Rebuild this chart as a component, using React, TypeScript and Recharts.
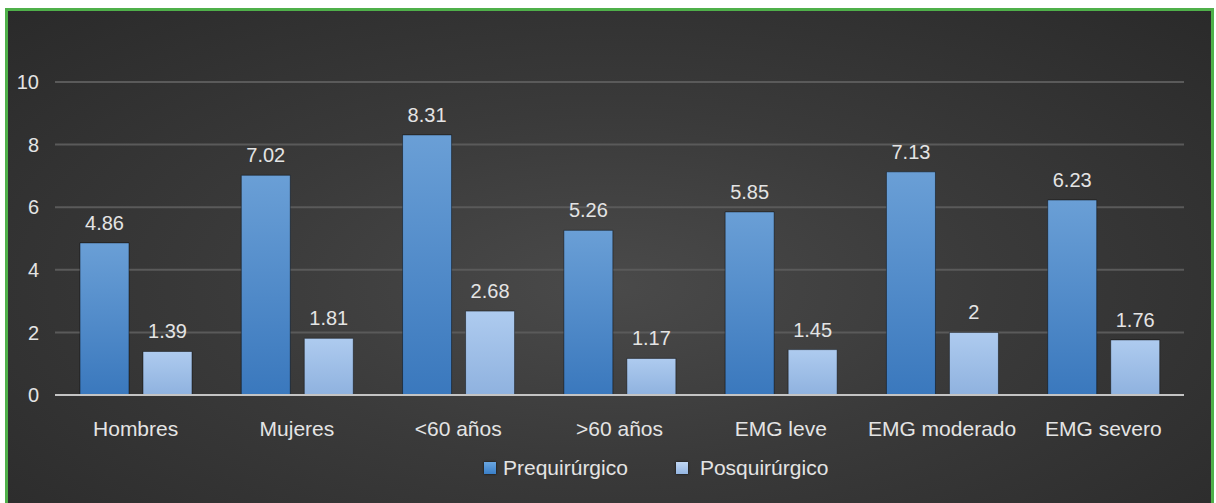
import React from 'react';
import { BarChart, Bar, XAxis, YAxis, CartesianGrid, Legend, LabelList } from 'recharts';

const categories = ['Hombres', 'Mujeres', '<60 años', '>60 años', 'EMG leve', 'EMG moderado', 'EMG severo'];
const prequirurgico = [4.86, 7.02, 8.31, 5.26, 5.85, 7.13, 6.23];
const posquirurgico = [1.39, 1.81, 2.68, 1.17, 1.45, 2, 1.76];
const yTicks = [0, 2, 4, 6, 8, 10];
const seriesOrder = ['pre', 'pos'];
const legendColors: Record<string, string> = {
  pre: 'linear-gradient(#6aa6e0, #3a7fc8)',
  pos: 'linear-gradient(#c0d6f2, #94b6e2)',
};

const data = categories.map((name, i) => ({
  name,
  pre: prequirurgico[i],
  pos: posquirurgico[i],
}));

const FONT = '"Liberation Sans", Arial, Helvetica, sans-serif';
const TEXT = '#e4e4e4';

const renderLegend = (props: any) => {
  const items = [...(props.payload || [])].sort(
    (a: any, b: any) => seriesOrder.indexOf(a.dataKey) - seriesOrder.indexOf(b.dataKey)
  );
  return (
    <div style={{ display: 'flex', fontFamily: FONT, fontSize: 21, color: TEXT }}>
      {items.map((entry: any, i: number) => (
        <div key={i} style={{ display: 'flex', alignItems: 'center', marginRight: 48 }}>
          <div
            style={{
              width: 12,
              height: 12,
              background: legendColors[entry.dataKey],
              boxShadow: '0 0 2px rgba(0,0,0,0.8)',
              marginRight: i === 0 ? 7 : 12,
            }}
          />
          <span>{entry.value}</span>
        </div>
      ))}
    </div>
  );
};

export default function App() {
  return (
    <div style={{ position: 'absolute', left: 0, top: 0, width: 1216, height: 503, background: '#fff', overflow: 'hidden' }}>
      <div
        style={{
          position: 'absolute',
          left: 5,
          top: 8,
          width: 1203,
          height: 500,
          border: '3px solid #4fb04a',
          background: 'radial-gradient(ellipse at 50% 55%, #4a4a4a 0%, #3a3a3a 45%, #2a2a2a 100%)',
        }}
      >
        <BarChart
          width={1203}
          height={492}
          data={data}
          margin={{ top: 71, right: 27, left: 0, bottom: 8 }}
          barCategoryGap="15.5%"
          barGap={14}
        >
          <defs>
            <linearGradient id="gradPre" x1="0" y1="0" x2="0" y2="1">
              <stop offset="0%" stopColor="#6a9fd6" />
              <stop offset="100%" stopColor="#3a78bd" />
            </linearGradient>
            <linearGradient id="gradPos" x1="0" y1="0" x2="0" y2="1">
              <stop offset="0%" stopColor="#aecbef" />
              <stop offset="100%" stopColor="#8fb2df" />
            </linearGradient>
          </defs>
          <CartesianGrid horizontal vertical={false} stroke="#5a5a5a" strokeWidth={2} />
          <XAxis
            dataKey="name"
            axisLine={{ stroke: '#c4c4c4', strokeWidth: 2 }}
            tickLine={false}
            tickSize={0}
            tickMargin={26}
            height={45}
            interval={0}
            tick={{ fill: TEXT, fontSize: 21, fontFamily: FONT }}
          />
          <YAxis
            domain={[0, 10]}
            ticks={yTicks}
            axisLine={false}
            tickLine={false}
            tickSize={0}
            tickMargin={16}
            width={47}
            tick={{ fill: TEXT, fontSize: 20, fontFamily: FONT }}
          />
          <Legend
            verticalAlign="bottom"
            height={55}
            content={renderLegend}
            wrapperStyle={{ top: 445, left: 476, width: 500 }}
          />
          <Bar dataKey="pre" name="Prequirúrgico" fill="url(#gradPre)" stroke="rgba(0,0,0,0.45)" strokeWidth={1} isAnimationActive={false}>
            <LabelList dataKey="pre" position="top" offset={13} fill={TEXT} fontSize={20} fontFamily={FONT} />
          </Bar>
          <Bar dataKey="pos" name="Posquirúrgico" fill="url(#gradPos)" stroke="rgba(0,0,0,0.45)" strokeWidth={1} isAnimationActive={false}>
            <LabelList dataKey="pos" position="top" offset={13} fill={TEXT} fontSize={20} fontFamily={FONT} />
          </Bar>
        </BarChart>
      </div>
    </div>
  );
}
